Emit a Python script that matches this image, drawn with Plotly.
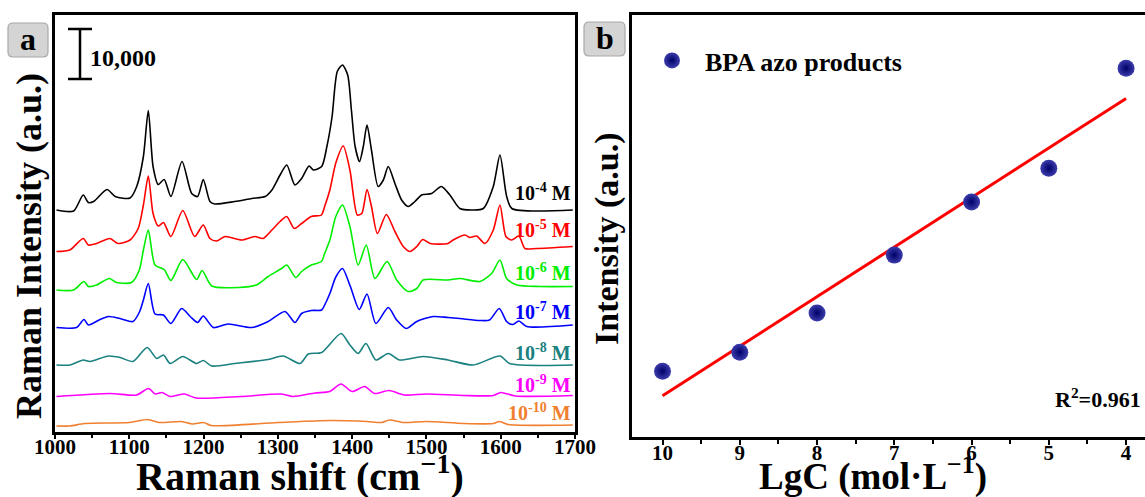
import numpy as np
import plotly.graph_objects as go

W, H = 1145, 497
FONT = "Liberation Serif"

# ---------------- Panel a data: Raman spectra (stacked, a.u.) ----------------
wn_m4 = [1002, 1025, 1038, 1045, 1052, 1070, 1081, 1101, 1110, 1119, 1125.6, 1132, 1139, 1147, 1156,
         1171, 1184, 1192, 1199.6, 1208.6, 1215, 1242, 1265, 1283, 1292, 1303, 1312, 1323, 1332,
         1342, 1348, 1359, 1366, 1373, 1380, 1387, 1394, 1399, 1404, 1410, 1415, 1420, 1426, 1435,
         1442, 1448.6, 1457.6, 1466.6, 1475.5, 1484.5, 1493.5, 1507, 1520, 1531.6, 1545, 1563,
         1576.5, 1590, 1599, 1608, 1615, 1697]
int_m4 = [44400, 44200, 47400, 45900, 46100, 48500, 47100, 46800, 49100, 55100, 64300, 53100, 49500,
          50500, 47100, 54100, 47700, 47100, 50500, 46100, 45600, 46100, 46700, 47100, 48400, 51400,
          53400, 49400, 50700, 53200, 52400, 53100, 57100, 63100, 72100, 73400, 71400, 64400, 57100,
          54100, 57100, 61400, 56400, 49100, 50400, 53100, 49700, 46400, 45100, 46100, 47400, 47700,
          49100, 47400, 44700, 44400, 44700, 49100, 55400, 47100, 44700, 44400]

wn_m5 = [1002, 1020, 1038, 1045, 1056, 1074, 1085, 1101, 1112, 1119, 1125.6, 1132, 1139, 1146, 1156,
         1172, 1188, 1199.6, 1208.6, 1217.6, 1229, 1251, 1269, 1280, 1292, 1303, 1312, 1322, 1332,
         1345, 1358.6, 1363, 1370, 1378, 1388, 1397, 1407, 1413, 1420, 1426, 1434, 1446, 1457.6,
         1468.8, 1478, 1487, 1495, 1505, 1529, 1536, 1552, 1558.5, 1567.5, 1578.7, 1590, 1599, 1607,
         1614.7, 1624.5, 1632.6, 1648, 1697]
int_m5 = [36100, 36400, 38700, 37400, 37700, 38700, 37700, 38400, 40700, 45400, 51200, 43700, 41200,
          41900, 39100, 44300, 39100, 41400, 38700, 38200, 39100, 38400, 39100, 38700, 40400, 42100,
          43100, 40700, 41700, 43100, 43400, 45100, 48400, 53800, 57200, 52400, 43400, 43700, 48500,
          45100, 39700, 43500, 40100, 37100, 36100, 37100, 38500, 37700, 37700, 38400, 39400, 38900,
          39200, 37700, 40400, 45400, 39100, 38400, 39200, 36700, 36700, 37100]

wn_m6 = [1002, 1025, 1039, 1045, 1056, 1073, 1083, 1103, 1113.5, 1119, 1125.6, 1134.6, 1147, 1156, 1172,
         1190.6, 1198, 1211, 1247, 1271, 1287, 1305, 1312, 1324, 1332, 1345, 1358.6, 1363, 1370, 1378,
         1387, 1397, 1408, 1419, 1430.7, 1447, 1460, 1475.5, 1487, 1495.7, 1529, 1545, 1572, 1587.7,
         1599, 1608, 1621.7, 1653, 1697]
int_m6 = [28400, 28400, 30100, 29100, 29400, 30700, 29900, 29900, 32400, 36400, 40400, 33400, 32500,
          30300, 34500, 30500, 32300, 29200, 28900, 29400, 31100, 32700, 33400, 30900, 32100, 33400,
          34100, 35700, 38400, 43100, 45400, 41100, 33400, 37400, 30700, 34100, 30400, 28100, 28700,
          30400, 30400, 30700, 30100, 31700, 34400, 30700, 29400, 29100, 29100]

wn_m7 = [1002, 1029, 1039, 1045, 1060.6, 1072, 1087.5, 1105, 1114, 1119, 1125.6, 1134.6, 1146, 1156,
         1170.5, 1182, 1192, 1199.6, 1213, 1233, 1265, 1287, 1309.6, 1323, 1332, 1345, 1359, 1363,
         1370, 1378, 1387, 1397.6, 1409.6, 1420, 1432, 1448.6, 1460, 1473, 1487, 1509, 1529, 1545,
         1572, 1585, 1598, 1608, 1616, 1624.5, 1635, 1697]
int_m7 = [20900, 20900, 22500, 21400, 22500, 23100, 22700, 22100, 24100, 26400, 29700, 23600, 23400,
          21700, 24700, 23100, 21900, 23200, 20900, 21600, 20900, 22100, 24100, 21900, 23700, 24300,
          24400, 25400, 27700, 31000, 32700, 29100, 24500, 27600, 21700, 24900, 22400, 20700, 22100,
          23100, 22900, 22700, 22300, 22400, 24700, 22100, 21500, 22200, 21100, 21400]

wn_m8 = [1002, 1020, 1038, 1047, 1072, 1087.5, 1105, 1124, 1137, 1146, 1155, 1172, 1190.6, 1199.6,
         1211, 1242, 1287, 1307, 1330, 1341, 1359, 1385, 1397, 1408, 1418.6, 1432, 1448.6, 1464,
         1495.7, 1529, 1563, 1599, 1612, 1697]
int_m8 = [13400, 13400, 14400, 14100, 15200, 14900, 14100, 16900, 14700, 15400, 13700, 15100, 13700,
          14300, 13200, 13700, 14500, 15200, 13700, 15600, 15900, 19700, 17400, 15700, 17700, 14400,
          15700, 14400, 15100, 14400, 13400, 15200, 13700, 13400]

wn_m9 = [1002, 1074, 1110, 1126, 1135, 1144, 1155, 1174, 1190, 1250, 1305, 1320, 1350, 1370, 1385,
         1400, 1417, 1430, 1450, 1470, 1500, 1550, 1590, 1600, 1620, 1697]
int_m9 = [7100, 7700, 7400, 8700, 7600, 7900, 7100, 7600, 6800, 7100, 7600, 7100, 7800, 8100, 9600,
          8100, 9100, 7700, 8300, 7400, 7600, 7300, 7300, 7900, 7200, 7300]

wn_m10 = [1002, 1020, 1040, 1100, 1125, 1140, 1170, 1185, 1200, 1210, 1300, 1370, 1420, 1440, 1450,
          1470, 1500, 1550, 1590, 1598, 1610, 1697]
int_m10 = [1200, 1200, 1700, 1900, 2500, 1900, 2100, 1600, 1900, 1300, 1900, 2300, 2100, 1900, 2400,
           1900, 2100, 1700, 1700, 2100, 1500, 1400]

conc_labels = ["10<sup>-4</sup> M", "10<sup>-5</sup> M", "10<sup>-6</sup> M", "10<sup>-7</sup> M",
               "10<sup>-8</sup> M", "10<sup>-9</sup> M", "10<sup>-10</sup> M"]
spec_colors = ["#000000", "#FF0000", "#00EE00", "#0000FF", "#1A8080", "#FF00FF", "#F08030"]
SCALE_BAR = 10000
SCALE_BAR_BASE = 70600

# ---------------- Panel b data ----------------
lgc = [10, 9, 8, 7, 6, 5, 4]
intensity_b = [15.6, 20.1, 29.4, 43.1, 55.7, 63.7, 87.4]
r2_text = "R<sup>2</sup>=0.961"

# ---------------- helpers (pixel -> paper) ----------------
def px(x):
    return x / W

def py(y):
    return 1 - y / H

fig = go.Figure()

spectra = [(wn_m4, int_m4), (wn_m5, int_m5), (wn_m6, int_m6), (wn_m7, int_m7),
           (wn_m8, int_m8), (wn_m9, int_m9), (wn_m10, int_m10)]
for (wx, wy), c in zip(spectra, spec_colors):
    fig.add_trace(go.Scatter(x=wx, y=wy, mode="lines",
                             line=dict(color=c, width=1.6, shape="spline", smoothing=0.7),
                             xaxis="x", yaxis="y", showlegend=False, hoverinfo="skip"))

# panel b points + least-squares fit
coef = np.polyfit(lgc, intensity_b, 1)
fit_x = np.array([max(lgc), min(lgc)])
fig.add_trace(go.Scatter(x=fit_x, y=np.polyval(coef, fit_x), mode="lines",
                         line=dict(color="#FF0000", width=3), xaxis="x2", yaxis="y2",
                         showlegend=False))
fig.add_trace(go.Scatter(x=lgc, y=intensity_b, mode="markers",
                         name="\u00a0\u00a0BPA azo products",
                         marker=dict(size=17, color="#3c3cac",
                                     gradient=dict(type="radial", color="#000068"),
                                     line=dict(width=0)),
                         xaxis="x2", yaxis="y2", showlegend=True))

axis_common = dict(showline=True, linecolor="black", linewidth=2.5, showgrid=False,
                   zeroline=False, automargin=False)
tickfont = dict(family=FONT, size=21, weight="bold", color="black")

fig.update_layout(
    width=W, height=H, margin=dict(l=0, r=0, t=0, b=0, autoexpand=False),
    paper_bgcolor="white", plot_bgcolor="white",
    font=dict(family=FONT, color="black"),
    xaxis=dict(domain=[px(55), px(575)], range=[1000, 1700], dtick=100, ticks="outside",
               ticklen=5, tickwidth=2, tickcolor="black", mirror=True, tickfont=tickfont,
               ticklabelstandoff=-10,
               minor=dict(dtick=50, ticks="outside", ticklen=4, tickwidth=2, tickcolor="black"),
               anchor="y", **axis_common),
    yaxis=dict(domain=[py(431.5), py(15)], range=[100, 83400], showticklabels=False, ticks="",
               mirror=True, anchor="x", **axis_common),
    xaxis2=dict(domain=[px(632), 1.0], range=[10.395, 3.755], tick0=4, dtick=1, ticks="outside",
                ticklen=5, tickwidth=2, tickcolor="black", mirror=True, tickfont=tickfont,
                ticklabelstandoff=-10,
                minor=dict(dtick=0.5, ticks="outside", ticklen=4, tickwidth=2, tickcolor="black"),
                anchor="y2", **axis_common),
    yaxis2=dict(domain=[py(437), py(15)], range=[0, 100], showticklabels=False, ticks="",
                mirror=False, anchor="x2", **axis_common),
    legend=dict(x=px(652), y=py(37), xanchor="left", yanchor="top", bgcolor="rgba(0,0,0,0)",
                font=dict(family=FONT, size=26, weight="bold", color="black"),
                itemsizing="trace"),
)

annotations = []
# concentration labels
label_y = [192, 229, 272, 311, 352, 384, 412]
for lab, c, yy in zip(conc_labels, spec_colors, label_y):
    annotations.append(dict(text=lab, x=px(573), y=py(yy), xref="paper", yref="paper",
                            xanchor="right", yanchor="middle", showarrow=False,
                            font=dict(family=FONT, size=20, weight="bold", color=c)))
# axis titles and other texts
annotations += [
    dict(text="Raman shift (cm<sup>\u22121</sup>)", x=px(300), y=py(473), xref="paper", yref="paper",
         xanchor="center", yanchor="middle", showarrow=False,
         font=dict(family=FONT, size=40, weight="bold")),
    dict(text="Raman Intensity (a.u.)", x=px(29), y=py(246), xref="paper", yref="paper",
         xanchor="center", yanchor="middle", showarrow=False, textangle=-90,
         font=dict(family=FONT, size=36, weight="bold")),
    dict(text="LgC (mol\u00b7L<sup>\u22121</sup>)", x=px(873), y=py(474), xref="paper", yref="paper",
         xanchor="center", yanchor="middle", showarrow=False,
         font=dict(family=FONT, size=37, weight="bold")),
    dict(text="Intensity (a.u.)", x=px(607), y=py(239), xref="paper", yref="paper",
         xanchor="center", yanchor="middle", showarrow=False, textangle=-90,
         font=dict(family=FONT, size=34, weight="bold")),
    dict(text=r2_text, x=px(1143), y=py(398), xref="paper", yref="paper",
         xanchor="right", yanchor="middle", showarrow=False,
         font=dict(family=FONT, size=22, weight="bold")),
    dict(text=f"{SCALE_BAR:,}", x=px(88), y=(SCALE_BAR_BASE + SCALE_BAR / 2) - 800, xref="paper",
         yref="y", xanchor="left", yanchor="middle", showarrow=False,
         font=dict(family=FONT, size=24, weight="bold")),
    dict(text="a", x=px(28), y=py(39), xref="paper", yref="paper", xanchor="center", yanchor="middle",
         showarrow=False, font=dict(family=FONT, size=32, weight="bold")),
    dict(text="b", x=px(604.5), y=py(38), xref="paper", yref="paper", xanchor="center",
         yanchor="middle", showarrow=False, font=dict(family=FONT, size=32, weight="bold")),
]
fig.update_layout(annotations=annotations)


def rounded_rect(x0, y0, x1, y1, r):
    X0, X1 = px(x0), px(x1)
    Y0, Y1 = py(y0), py(y1)
    rx, ry = r / W, r / H
    return (f"M {X0+rx},{Y0} L {X1-rx},{Y0} Q {X1},{Y0} {X1},{Y0-ry} "
            f"L {X1},{Y1+ry} Q {X1},{Y1} {X1-rx},{Y1} L {X0+rx},{Y1} Q {X0},{Y1} {X0},{Y1+ry} "
            f"L {X0},{Y0-ry} Q {X0},{Y0} {X0+rx},{Y0} Z")


shapes = [
    dict(type="path", path=rounded_rect(8, 23, 48, 57, 5), xref="paper", yref="paper",
         fillcolor="#D4D4D4", line=dict(color="#A8A8A8", width=1.2), layer="below"),
    dict(type="path", path=rounded_rect(584, 22, 625, 56, 5), xref="paper", yref="paper",
         fillcolor="#D4D4D4", line=dict(color="#A8A8A8", width=1.2), layer="below"),
    # scale bar (10,000 a.u. in data units)
    dict(type="line", xref="paper", yref="y", x0=px(80), x1=px(80), y0=SCALE_BAR_BASE,
         y1=SCALE_BAR_BASE + SCALE_BAR, line=dict(color="black", width=2.5)),
    dict(type="line", xref="paper", yref="y", x0=px(68), x1=px(92), y0=SCALE_BAR_BASE,
         y1=SCALE_BAR_BASE, line=dict(color="black", width=2.5)),
    dict(type="line", xref="paper", yref="y", x0=px(68), x1=px(92), y0=SCALE_BAR_BASE + SCALE_BAR,
         y1=SCALE_BAR_BASE + SCALE_BAR, line=dict(color="black", width=2.5)),
]
fig.update_layout(shapes=shapes)

fig.write_html("out.html")
